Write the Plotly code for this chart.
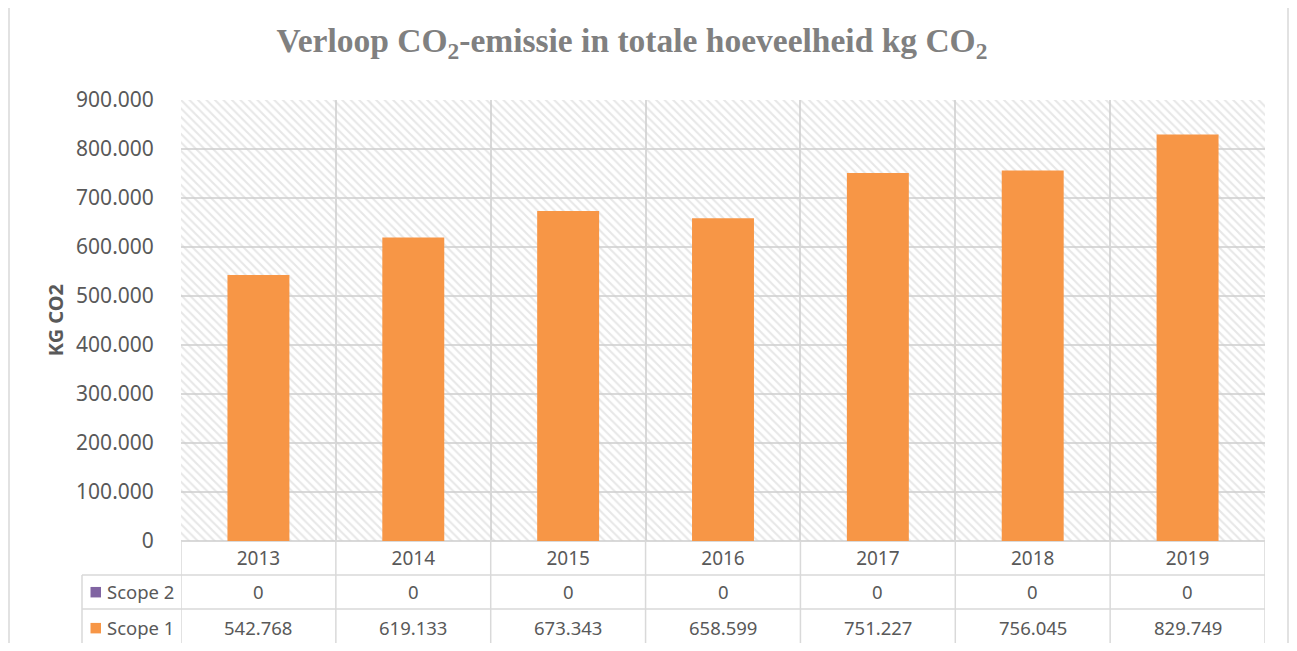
import plotly.graph_objects as go

# ---- data ----
years = ["2013", "2014", "2015", "2016", "2017", "2018", "2019"]
scope1 = [542768, 619133, 673343, 658599, 751227, 756045, 829749]
scope2 = [0, 0, 0, 0, 0, 0, 0]
y_max = 900000
y_dtick = 100000

title_text = "Verloop CO<sub>2</sub>-emissie in totale hoeveelheid kg CO<sub>2</sub>"
y_title = "KG CO2"

# ---- layout geometry (screen pixels; page body has an 8px margin) ----
OFF = 8
W, H = 1297 - OFF * 2, 651 - OFF * 2
L, R, T, B = 181, 1265, 99.5, 541          # plot area on screen
pw, ph = R - L, B - T


def py(p):
    return (B - p) / ph


def px(p):
    return (p - L) / pw


GRID = "#d9d9d9"
TXT = "#595959"
ORANGE = "#f79646"
PURPLE = "#8064a2"
FONT = "Noto Sans"


def fmt(v):
    return f"{v:,}".replace(",", ".")


fig = go.Figure()

# hatched plot-area background
fig.add_trace(go.Bar(
    x=years, y=[y_max] * len(years), width=1,
    marker=dict(color="rgba(0,0,0,0)", line=dict(width=0),
                pattern=dict(shape="\\", fgcolor="#d0d0d0", size=6,
                             solidity=0.35, fillmode="overlay")),
    hoverinfo="skip", showlegend=False))

fig.add_trace(go.Bar(x=years, y=scope2, width=0.4, name="Scope 2",
                     marker=dict(color=PURPLE, line=dict(width=0)),
                     showlegend=False))
fig.add_trace(go.Bar(x=years, y=scope1, width=0.4, name="Scope 1",
                     marker=dict(color=ORANGE, line=dict(width=0)),
                     showlegend=False))

shapes = []
line = dict(color=GRID, width=1.5)
# outer chart border (left and right edges)
for xx in [9, 1288]:
    shapes.append(dict(type="line", xref="paper", yref="paper",
                       x0=px(xx), x1=px(xx), y0=py(720), y1=py(0),
                       line=dict(color=GRID, width=1.5), layer="below"))
# table horizontal lines
for yy in [575, 609, 645]:
    shapes.append(dict(type="line", xref="paper", yref="paper",
                       x0=px(82), x1=1, y0=py(yy), y1=py(yy), line=line))
# table vertical lines at category boundaries
for i in range(len(years) + 1):
    shapes.append(dict(type="line", xref="x", yref="paper",
                       x0=i - 0.5, x1=i - 0.5, y0=0, y1=py(645), line=line))
# legend column left border
shapes.append(dict(type="line", xref="paper", yref="paper",
                   x0=px(82), x1=px(82), y0=py(575), y1=py(645), line=line))
# legend keys
shapes.append(dict(type="rect", xref="paper", yref="paper",
                   x0=px(90.5), x1=px(101), y0=py(597.5), y1=py(587),
                   fillcolor=PURPLE, line=dict(width=0)))
shapes.append(dict(type="rect", xref="paper", yref="paper",
                   x0=px(90.5), x1=px(101), y0=py(633.5), y1=py(623),
                   fillcolor=ORANGE, line=dict(width=0)))

annotations = []
tf = dict(family=FONT, size=18.5, color=TXT)
for i, (v2, v1) in enumerate(zip(scope2, scope1)):
    annotations.append(dict(x=i, y=py(592), xref="x", yref="paper",
                            xanchor="center", yanchor="middle",
                            text=fmt(v2), showarrow=False, font=tf))
    annotations.append(dict(x=i, y=py(627.5), xref="x", yref="paper",
                            xanchor="center", yanchor="middle",
                            text=fmt(v1), showarrow=False, font=tf))
annotations.append(dict(x=px(105), y=py(592), xref="paper", yref="paper",
                        text="Scope 2", showarrow=False, xanchor="left",
                        yanchor="middle", font=tf))
annotations.append(dict(x=px(105), y=py(627.5), xref="paper", yref="paper",
                        text="Scope 1", showarrow=False, xanchor="left",
                        yanchor="middle", font=tf))
annotations.append(dict(x=px(55), y=py(320), xref="paper", yref="paper",
                        xanchor="center", yanchor="middle",
                        text="<b>" + y_title + "</b>", showarrow=False,
                        textangle=-90, font=dict(family=FONT, size=20, color=TXT)))

fig.update_layout(
    width=W, height=H,
    margin=dict(l=L - OFF, r=W - (R - OFF), t=T - OFF, b=H - (B - OFF), pad=0),
    barmode="overlay",
    separators=",.",
    paper_bgcolor="white", plot_bgcolor="white",
    title=dict(text="<b>" + title_text + "</b>", x=(632 - OFF) / W, xanchor="center",
               y=1 - (40 - OFF) / H, yanchor="middle", xref="container", yref="container",
               font=dict(family="Liberation Serif", size=33.5, color="#808080")),
    shapes=shapes, annotations=annotations,
    xaxis=dict(type="category", tickson="boundaries", showgrid=True,
               gridcolor=GRID, gridwidth=1.5, ticks="", showline=False,
               ticklabelstandoff=4,
               tickfont=dict(family=FONT, size=19, color=TXT),
               range=[-0.5, len(years) - 0.5], fixedrange=True),
    yaxis=dict(range=[0, y_max], dtick=y_dtick, tickformat=",d",
               showgrid=True, gridcolor=GRID, gridwidth=1.5, zeroline=True,
               zerolinecolor=GRID, zerolinewidth=1.5, showline=False, ticks="outside",
               ticklen=22, tickcolor="rgba(0,0,0,0)",
               tickfont=dict(family=FONT, size=21, color=TXT)),
    showlegend=False,
)

fig.write_html("out.html")
